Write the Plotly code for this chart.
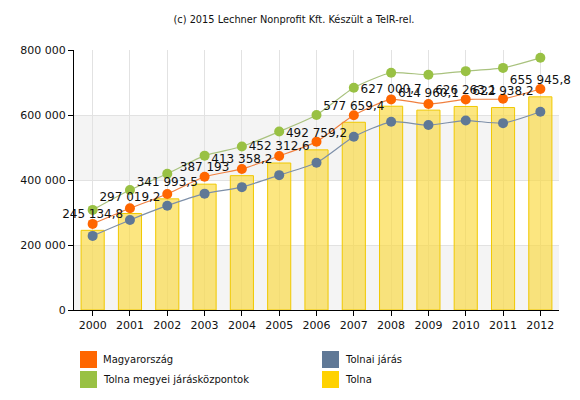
import plotly.graph_objects as go

years = ["2000", "2001", "2002", "2003", "2004", "2005", "2006",
         "2007", "2008", "2009", "2010", "2011", "2012"]
tolna = [245134.8, 297019.2, 341993.5, 387193, 413358.2, 452312.6, 492759.2,
         577659.4, 627000.7, 614960.1, 626263.1, 622938.2, 655945.8]
magyarorszag = [265000, 313000, 357000, 410000, 434000, 474000, 518000,
                599000, 648000, 634000, 648000, 650000, 680000]
tolnai_jaras = [228000, 277000, 321000, 358000, 378000, 415000, 453000,
                533000, 579000, 569000, 583000, 575000, 610000]
jaraskozpontok = [308000, 369000, 419000, 475000, 503000, 549000, 600000,
                  684000, 730000, 724000, 735000, 745000, 776000]
y_ticks = [0, 200000, 400000, 600000, 800000]
title_text = "(c) 2015 Lechner Nonprofit Kft. Készült a TeIR-rel."

C_ORANGE = "#FF6600"
C_GREEN = "#99C144"
C_BLUE = "#5F7896"
C_YELLOW = "#FFD200"

FONT = "DejaVu Sans"
OFF = 8  # page body margin offset
W, H = 580 - OFF, 400 - OFF
L, R, T, B = 74 - OFF, 21, 50 - OFF, 90
PW, PH = W - L - R, H - T - B

fig = go.Figure()

fig.add_trace(go.Bar(
    x=years, y=tolna, name="Tolna", width=0.62,
    marker=dict(color="rgba(250,216,60,0.65)", line=dict(color="#F0C800", width=1)),
    showlegend=False, hoverinfo="y",
))

def line(y, name, lc, mc):
    fig.add_trace(go.Scatter(
        x=years, y=y, name=name, mode="lines+markers",
        line=dict(color=lc, width=1.2, shape="spline", smoothing=0.6),
        marker=dict(color=mc, size=10),
        showlegend=False, cliponaxis=False,
    ))

line(jaraskozpontok, "Tolna megyei járásközpontok", "#A9C27E", C_GREEN)
line(magyarorszag, "Magyarország", "#F08040", C_ORANGE)
line(tolnai_jaras, "Tolnai járás", "#7D8FA8", C_BLUE)

fig.add_trace(go.Scatter(
    x=years, y=tolna, mode="markers+text", texttemplate="%{y:,.1~f}",
    marker=dict(size=14, opacity=0),
    textposition="top center", textfont=dict(family=FONT, size=12, color="#111111"),
    showlegend=False, cliponaxis=False, hoverinfo="skip",
))

# alternating background bands
shapes = []
for i in range(0, len(y_ticks) - 1, 2):
    shapes.append(dict(type="rect", xref="paper", yref="y", x0=0, x1=1,
                       y0=y_ticks[i], y1=y_ticks[i + 1],
                       fillcolor="#F4F4F4", line=dict(width=0), layer="below"))

# manual legend (page pixel positions)
def px_to_paper(px, py):
    px -= OFF
    py -= OFF
    return (px - L) / PW, (H - B - py) / PH

legend_items = [("Magyarország", C_ORANGE, 80, 351),
                ("Tolnai járás", C_BLUE, 322, 351),
                ("Tolna megyei járásközpontok", C_GREEN, 80, 371),
                ("Tolna", C_YELLOW, 322, 371)]
annotations = []
for name, col, lx, ly in legend_items:
    x0, y0 = px_to_paper(lx, ly)
    x1, y1 = px_to_paper(lx + 17, ly + 17)
    shapes.append(dict(type="rect", xref="paper", yref="paper", x0=x0, x1=x1,
                       y0=y1, y1=y0, fillcolor=col, line=dict(width=0)))
    tx, ty = px_to_paper(lx + 21, ly + 8.5)
    annotations.append(dict(xref="paper", yref="paper", x=tx, y=ty, text=name,
                            showarrow=False, xanchor="left", yanchor="middle",
                            font=dict(family=FONT, size=10, color="#111111")))

fig.update_layout(
    width=W, height=H,
    margin=dict(l=L, r=R, t=T, b=B),
    paper_bgcolor="white", plot_bgcolor="white",
    separators=", ",
    font=dict(family=FONT, size=11, color="#111111"),
    title=dict(text=title_text, x=(294 - OFF) / W, xanchor="center",
               y=1 - (20 - OFF) / H, yanchor="middle",
               font=dict(family=FONT, size=9.8, color="#111111")),
    shapes=shapes, annotations=annotations,
    showlegend=False,
)
fig.update_xaxes(
    type="category", range=[-0.5, len(years) - 0.5],
    showline=True, linecolor="#000000", linewidth=1,
    ticks="outside", ticklen=5, tickcolor="#000000",
    showgrid=True, gridcolor="#E2E2E2", gridwidth=1,
    tickfont=dict(family=FONT, size=11, color="#111111"),
)
fig.update_yaxes(
    range=[0, 800000], tickvals=y_ticks, tickformat=",d",
    showline=True, linecolor="#000000", linewidth=1,
    ticks="outside", ticklen=5, tickcolor="#000000",
    showgrid=True, gridcolor="#E2E2E2", gridwidth=1, zeroline=False,
    tickfont=dict(family=FONT, size=11, color="#111111"),
)

fig.write_html("out.html")
